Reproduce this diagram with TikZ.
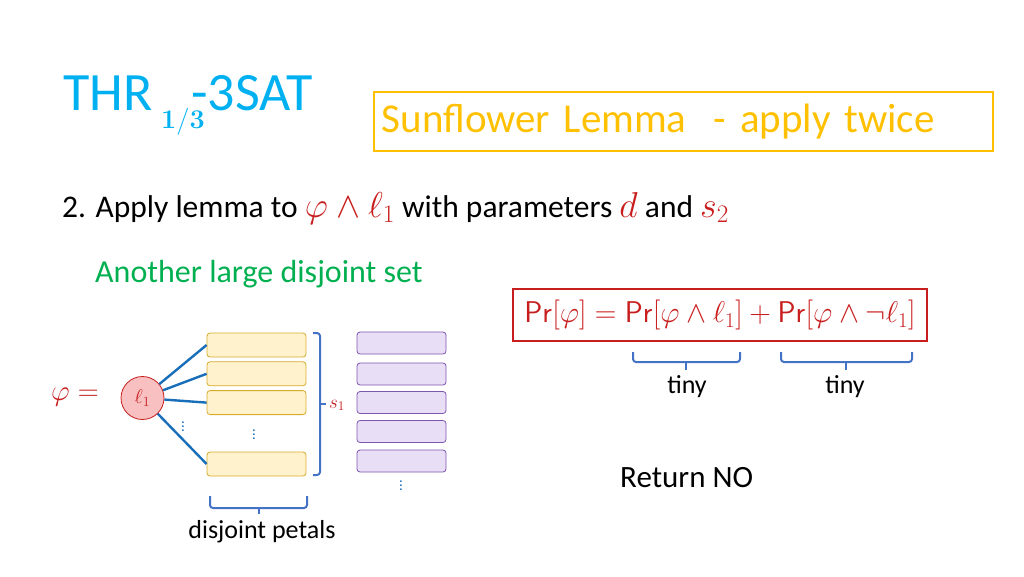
\documentclass[tikz,border=0pt]{standalone}
\usepackage{fix-cm}
\usepackage{amsmath}
\usepackage[no-math]{fontspec}
\setmainfont{Carlito}
\usepackage{xcolor}
\usetikzlibrary{positioning}

\definecolor{titleblue}{RGB}{0,176,240}
\definecolor{lemmagold}{RGB}{255,192,0}
\definecolor{mathred}{RGB}{200,30,30}
\definecolor{setgreen}{RGB}{0,176,80}
\definecolor{edgeblue}{RGB}{25,110,185}
\definecolor{braceblue}{RGB}{68,114,196}
\definecolor{petalfill}{RGB}{255,242,204}
\definecolor{petaldraw}{RGB}{214,172,40}
\definecolor{otherfill}{RGB}{232,222,246}
\definecolor{otherdraw}{RGB}{125,85,175}
\definecolor{corefill}{RGB}{248,192,192}

\newcommand{\fsz}[1]{\fontsize{#1}{#1}\selectfont}

\begin{document}
\begin{tikzpicture}[
    x=1pt, y=-1pt,
    petal/.style={rectangle, draw=petaldraw, fill=petalfill, rounded corners=3pt, minimum width=99pt, minimum height=24pt, line width=0.8pt},
    other/.style={rectangle, draw=otherdraw, fill=otherfill, rounded corners=3pt, minimum width=89pt, minimum height=22pt, line width=0.8pt},
    core/.style={circle, draw=mathred, fill=corefill, minimum size=43pt, inner sep=0pt, line width=0.8pt},
    edge/.style={draw=edgeblue, line width=2.4pt},
    brace/.style={draw=braceblue, line width=2pt, rounded corners=3pt},
    dots/.style={text=edgeblue, inner sep=0pt, font=\fsz{15}},
    label/.style={inner sep=0pt, anchor=base west}
]
    \useasboundingbox (0,0) rectangle (1024,576);

    % Title
    \node[label, text=titleblue, font=\fsz{54}] (thr) at (63,110) {THR};
    \node[label, text=titleblue, font=\fsz{27}] (frac) at (161,128) {$\mathbf{1/3}$};
    \node[label, text=titleblue, font=\fsz{54}] (sat) at (191,110) {-3SAT};

    % Lemma box
    \node[draw=lemmagold, line width=1.5pt, text=lemmagold, font=\fsz{41}, anchor=north west,
          minimum width=619pt, minimum height=59pt, text width=603pt, align=left, inner xsep=8pt] (lemma) at (373,91)
          {Sunflower Lemma \ - apply twice};

    % Step text
    \node[label, font=\fsz{31.5}] (step) at (62,217)
        {2. Apply lemma to \textcolor{mathred}{\fsz{36}$\varphi\wedge\ell_1$} with parameters \textcolor{mathred}{\fsz{36}$d$} and \textcolor{mathred}{\fsz{36}$s_2$}};
    \node[label, text=setgreen, font=\fsz{32}] (another) at (95,282) {Another large disjoint set};

    % Probability split
    \node[draw=mathred, line width=1.5pt, text=mathred, font=\fsz{30}, minimum width=414pt, minimum height=52pt] (prob) at (720,315)
        {$\mathsf{Pr}[\varphi]=\mathsf{Pr}[\varphi\wedge\ell_1]+\mathsf{Pr}[\varphi\wedge\neg\ell_1]$};
    \draw[brace] (633,352) -- (633,362) -- (740,362) -- (740,352);
    \draw[brace] (686,362) -- (686,370);
    \draw[brace] (781,352) -- (781,362) -- (912,362) -- (912,352);
    \draw[brace] (846,362) -- (846,370);
    \node[font=\fsz{26}] (tinya) at (687,387) {tiny};
    \node[font=\fsz{26}] (tinyb) at (845,387) {tiny};

    % Formula
    \node[text=mathred, font=\fsz{29}] (phi) at (75,397) {$\varphi=$};
    \node[core, text=mathred, font=\fsz{20}] (l1) at (142.5,398) {$\ell_1$};

    % Petals
    \node[petal] (p1) at (256.5,345) {};
    \node[petal, below=4pt of p1] (p2) {};
    \node[petal, below=4pt of p2] (p3) {};
    \node[petal] (p4) at (256.5,464) {};
    \draw[edge] (l1) -- (p1.west);
    \draw[edge] (l1) -- (p2.west);
    \draw[edge] (l1) -- (p3.west);
    \draw[edge] (l1) -- (p4.west);
    \node[dots] (dl) at (183,424) {$\vdots$};
    \node[dots] (dp) at (254,432) {$\vdots$};

    % Braces around petals
    \draw[brace] (313,333) -- (320,333) -- (320,475) -- (313,475);
    \draw[brace] (320,404) -- (326,404);
    \node[label, text=mathred, font=\fsz{19}] (s1) at (329,408) {$s_1$};
    \draw[brace] (210,496) -- (210,508) -- (307,508) -- (307,496);
    \draw[brace] (258.5,508) -- (258.5,514);
    \node[font=\fsz{26}] (petals) at (262,532) {disjoint petals};

    % Other set
    \foreach \i/\y in {1/343, 2/374, 3/402.5, 4/431.5, 5/461} {
        \node[other] (o\i) at (401.5,\y) {};
    }
    \node[dots] (dz) at (401,483) {$\vdots$};

    \node[label, font=\fsz{31}] (ret) at (620,487) {Return NO};

\end{tikzpicture}
\end{document}
